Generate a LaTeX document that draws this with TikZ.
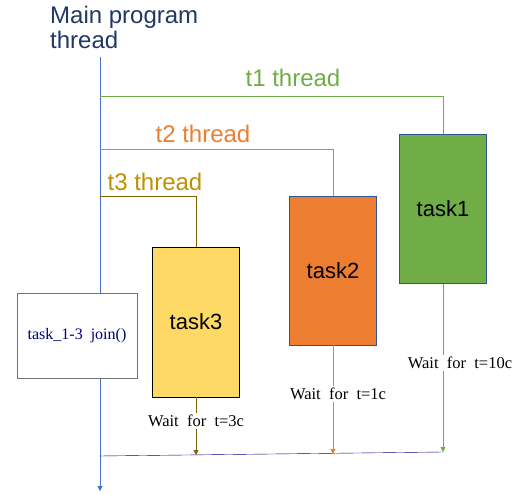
\documentclass[tikz,border=0pt]{standalone}
\usepackage{fontspec}
\setmainfont{Liberation Sans}
\newfontfamily\waitfont{Liberation Serif}
\usetikzlibrary{arrows.meta}
\definecolor{mainblue}{HTML}{4472C4}
\definecolor{titlenavy}{HTML}{203864}
\definecolor{tonegreen}{HTML}{70AD47}
\definecolor{ttwoorange}{HTML}{ED7D31}
\definecolor{tthreegold}{HTML}{BF9000}
\definecolor{tthreebrown}{HTML}{7F6000}
\definecolor{taskyellow}{HTML}{FFD966}
\definecolor{boxblue}{HTML}{2F5597}
\definecolor{joinnavy}{HTML}{000080}
\begin{document}
\begin{tikzpicture}[x=1pt, y=-1pt]
    \tikzstyle{task} = [draw=boxblue, minimum width=87pt, minimum height=149pt, inner sep=0pt,
      font=\fontsize{22}{24}\selectfont]
    \tikzstyle{thread} = [inner sep=0pt, font=\fontsize{24}{26}\selectfont]
    \tikzstyle{wait} = [fill=white, inner sep=2pt, font=\waitfont\fontsize{16.5}{18}\selectfont]
    \tikzstyle{tip} = [-{Triangle[width=5pt, length=5pt]}]
    \useasboundingbox (0,0) rectangle (522,494);
    % main program thread
    \node[anchor=north west, align=left, inner sep=0pt, text=titlenavy,
      font=\fontsize{24}{25}\selectfont] (title) at (50,6) {Main program\\thread};
    \coordinate (mtop) at (100,57);
    \coordinate (mend) at (100,491);
    \draw[mainblue, tip] (mtop) -- (mend);
    % tasks
    \node[task, fill=tonegreen] (task1) at (443,209) {task1};
    \node[task, fill=ttwoorange] (task2) at (333,270.5) {task2};
    \node[task, draw=black, fill=taskyellow, minimum height=150pt] (task3) at (196,322) {task3};
    % branches
    \coordinate (b1) at (100,96);
    \coordinate (b2) at (100,149);
    \coordinate (b3) at (100,196);
    \draw[tonegreen] (b1) -| (task1.north);
    \draw[ttwoorange] (b2) -| (task2.north);
    \draw[tthreebrown] (b3) -| (task3.north);
    \node[thread, text=tonegreen] (t1) at (293,78) {t1 thread};
    \node[thread, text=ttwoorange] (t2) at (203,134) {t2 thread};
    \node[thread, text=tthreegold] (t3) at (155,182) {t3 thread};
    % join
    \coordinate (jl) at (100,456);
    \coordinate (e3) at (196,455);
    \coordinate (e2) at (333,454);
    \coordinate (e1) at (443,452);
    \draw[joinnavy] (jl) -- (e1);
    \draw[tonegreen, tip] (task1.south) -- node[wait, pos=0.47, xshift=17pt, text=black] {Wait\ \ for\ \ t=10c} (e1);
    \draw[ttwoorange, tip] (task2.south) -- node[wait, pos=0.45, xshift=5pt, text=black] {Wait\ \ for\ \ t=1c} (e2);
    \draw[tthreebrown, tip] (task3.south) -- node[wait, pos=0.41, text=black] {Wait\ \ for\ \ t=3c} (e3);
    \node[draw=gray!90!black, thick, fill=white, minimum width=120pt, minimum height=85pt,
      text=joinnavy, font=\waitfont\fontsize{16}{18}\selectfont] (join) at (77,335.5) {task\_1-3\ \ join()};
\end{tikzpicture}
\end{document}
